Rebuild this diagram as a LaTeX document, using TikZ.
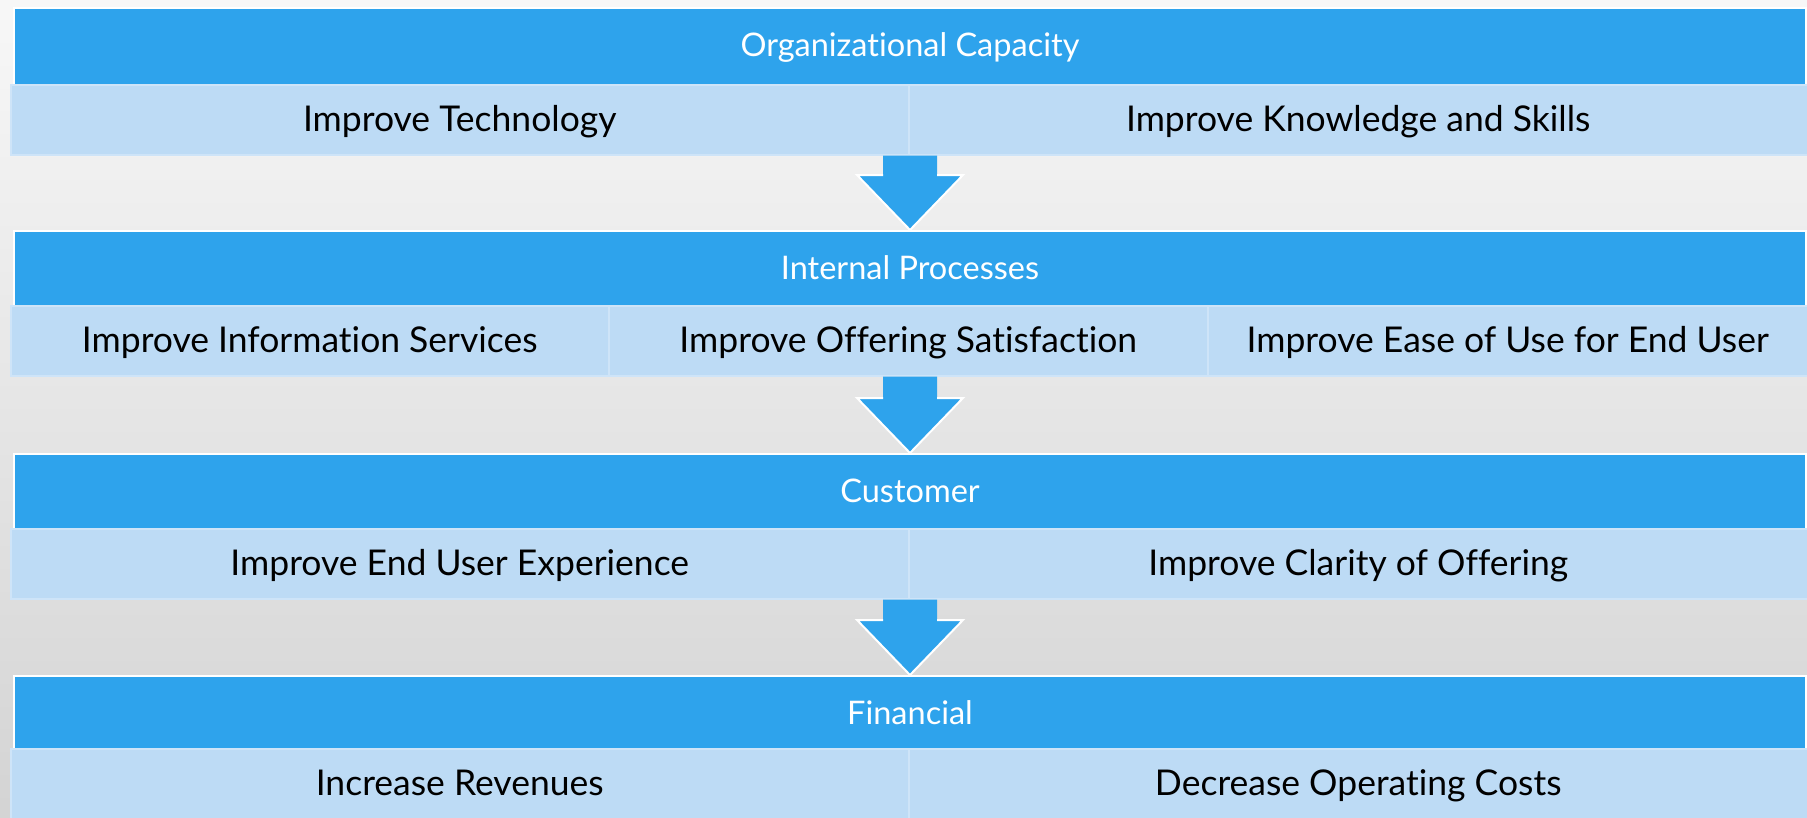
\documentclass[tikz,border=0pt]{standalone}
\usepackage{fontspec}
\setmainfont[Ligatures=NoCommon]{Lato}
\usetikzlibrary{calc}
\definecolor{hdrblue}{RGB}{46,163,236}
\definecolor{cellblue}{RGB}{189,219,245}
\definecolor{cellline}{RGB}{206,228,248}
\newcommand\flowarrow[2]{%
  \path[fill=hdrblue] let \p1=(#2.north), \p2=(#1.south) in
    (\x1-27pt,\y2) -- (\x1-27pt,\y1+55pt) -- (\x1-53pt,\y1+55pt) -- (\x1,\y1)
    -- (\x1+53pt,\y1+55pt) -- (\x1+27pt,\y1+55pt) -- (\x1+27pt,\y2) -- cycle;
  \draw[white,line width=2pt,line join=miter] let \p1=(#2.north) in
    (\x1-27pt,\y1+55pt) -- (\x1-53pt,\y1+55pt) -- (\x1,\y1)
    -- (\x1+53pt,\y1+55pt) -- (\x1+27pt,\y1+55pt);
}
\begin{document}
\begin{tikzpicture}[x=1pt,y=-1pt,
  hdr/.style={anchor=north west,fill=hdrblue,draw=white,line width=2pt,
    minimum width=1792pt,minimum height=77pt,inner sep=0pt,text=white,
    text height=23.4pt,text depth=3pt,
    font=\fontsize{32.5}{38}\selectfont},
  cell/.style={anchor=north west,fill=cellblue,draw=cellline,line width=1.5pt,
    minimum height=70pt,inner sep=0pt,text=black,
    text height=25.5pt,text depth=2pt,
    font=\fontsize{35.5}{42}\selectfont}]
\useasboundingbox (0,0) rectangle (1807,817);
\shade[top color=black!3,bottom color=black!17] (0,0) rectangle (1807,817);
% block 1
\node[hdr] (h1) at (13,7) {Organizational Capacity};
\node[cell,minimum width=898pt] (r1a) at (10,84) {Improve Technology};
\node[cell,minimum width=899pt] (r1b) at (908,84) {Improve Knowledge and Skills};
% block 2
\node[hdr] (h2) at (13,230) {Internal Processes};
\node[cell,minimum width=598pt] (r2a) at (10,305) {Improve Information Services};
\node[cell,minimum width=599pt] (r2b) at (608,305) {Improve Offering Satisfaction};
\node[cell,minimum width=600pt] (r2c) at (1207,305) {Improve Ease of Use for End User};
% block 3
\node[hdr] (h3) at (13,453) {Customer};
\node[cell,minimum width=898pt] (r3a) at (10,528) {Improve End User Experience};
\node[cell,minimum width=899pt] (r3b) at (908,528) {Improve Clarity of Offering};
% block 4
\node[hdr] (h4) at (13,675) {Financial};
\node[cell,minimum width=898pt] (r4a) at (10,748) {Increase Revenues};
\node[cell,minimum width=899pt] (r4b) at (908,748) {Decrease Operating Costs};
% arrows
\flowarrow{r1a}{h2}
\flowarrow{r2b}{h3}
\flowarrow{r3a}{h4}
\end{tikzpicture}
\end{document}
